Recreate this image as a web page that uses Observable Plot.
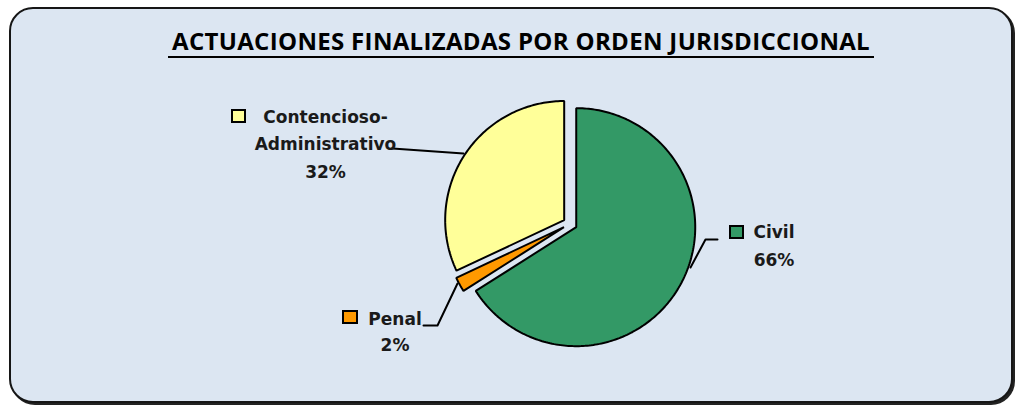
<!DOCTYPE html>
<html>
<head>
<meta charset="utf-8">
<script src="https://cdn.jsdelivr.net/npm/d3@7"></script>
<script src="https://cdn.jsdelivr.net/npm/@observablehq/plot@0.6"></script>
<style>
  html, body { margin: 0; padding: 0; background: #ffffff; }
  #page { position: relative; width: 1017px; height: 405px; overflow: hidden; background: #ffffff; }
  #box { position: absolute; left: 9px; top: 7px; width: 1004px; height: 396px; box-sizing: border-box;
         border: 2px solid #161616; border-radius: 24px; background: #dce6f2; box-shadow: 2px 2px 0 #222; }
  #title { position: absolute; left: 168px; top: 28.7px; padding: 0 4px 3px 4px; border-bottom: 2.5px solid #000;
           font-family: "Open Sans", sans-serif; font-weight: 700; font-size: 24px; line-height: 24px;
           color: #000; white-space: nowrap; }
  #chart { position: absolute; left: 0; top: 0; }
</style>
</head>
<body>
<div id="page">
  <div id="box"></div>
  <div id="title"><span id="titleText">ACTUACIONES FINALIZADAS POR ORDEN JURISDICCIONAL</span></div>
  <div id="chart"></div>
</div>
<script>
// ---- data ----
const categories = ["Civil", "Penal", "Contencioso-Administrativo"];
const percents = [66, 2, 32];
const colors = ["#339966", "#ff9900", "#ffff99"];

// ---- layout (pixels) ----
const W = 1017, H = 405;
const pie = { cx: 569.6, cy: 223.3, r: 119, explode: 7 };
const labelLayout = [
  { x: 773.5, y: 265, lineHeight: 1.59, sq: [730, 226, 743, 238], leader: [[717, 239], [705, 239], [690, 267]] },
  { x: 394.5, y: 350, lineHeight: 1.53, sq: [343, 311, 357, 323], leader: [[423, 325], [437, 325], [457, 283]] },
  { x: 325, y: 177, lineHeight: 1.59, sq: [232, 110, 245, 122], leader: [[392, 148], [463, 153]] }
];

// title fit
const tspan = document.getElementById("titleText");
const targetW = 698;
const w0 = tspan.getBoundingClientRect().width;
const n = tspan.textContent.length;
tspan.style.letterSpacing = ((targetW - w0) / n) + "px";

// ---- geometry from data ----
const arcs = d3.pie().sort(null).value(d => d)(percents);
const slicePts = [];
arcs.forEach((a, i) => {
  const mid = (a.startAngle + a.endAngle) / 2;
  const ox = pie.cx + pie.explode * Math.sin(mid);
  const oy = pie.cy - pie.explode * Math.cos(mid);
  slicePts.push({ name: categories[i], x: ox, y: oy });
  const steps = Math.max(2, Math.ceil((a.endAngle - a.startAngle) / (Math.PI / 180)));
  for (let k = 0; k <= steps; k++) {
    const t = a.startAngle + (a.endAngle - a.startAngle) * k / steps;
    slicePts.push({ name: categories[i], x: ox + pie.r * Math.sin(t), y: oy - pie.r * Math.cos(t) });
  }
});

const labels = categories.map((c, i) => ({
  name: c,
  text: c.replace("-", "-\n") + "\n" + percents[i] + "%",
  x: labelLayout[i].x, y: labelLayout[i].y, lh: labelLayout[i].lineHeight
}));
const squares = categories.map((c, i) => {
  const s = labelLayout[i].sq;
  return { name: c, x1: s[0], y1: s[1], x2: s[2], y2: s[3] };
});
const leaders = [];
categories.forEach((c, i) => labelLayout[i].leader.forEach(p => leaders.push({ name: c, x: p[0], y: p[1] })));

const fontFamily = "DejaVu Sans, sans-serif";

const plot = Plot.plot({
  width: W, height: H,
  margin: 0,
  style: { background: "transparent", overflow: "visible" },
  x: { domain: [0, W], range: [0, W], axis: null },
  y: { domain: [0, H], range: [0, H], axis: null },
  color: { domain: categories, range: colors },
  marks: [
    Plot.line(slicePts, { x: "x", y: "y", z: "name", fill: "name", stroke: "#000", strokeWidth: 2,
                          curve: "linear-closed", strokeLinejoin: "miter" }),
    Plot.line(leaders, { x: "x", y: "y", z: "name", stroke: "#000", strokeWidth: 2 }),
    Plot.rect(squares, { x1: "x1", x2: "x2", y1: "y1", y2: "y2", fill: "name", stroke: "#000", strokeWidth: 2 }),
    ...labels.map(l => Plot.text([l], { x: "x", y: "y", text: "text", textAnchor: "middle", lineAnchor: "bottom",
      lineHeight: l.lh, fontFamily, fontWeight: "bold", fontSize: 17, fill: "#1a1a1a" }))
  ]
});
document.getElementById("chart").appendChild(plot);
</script>
</body>
</html>
